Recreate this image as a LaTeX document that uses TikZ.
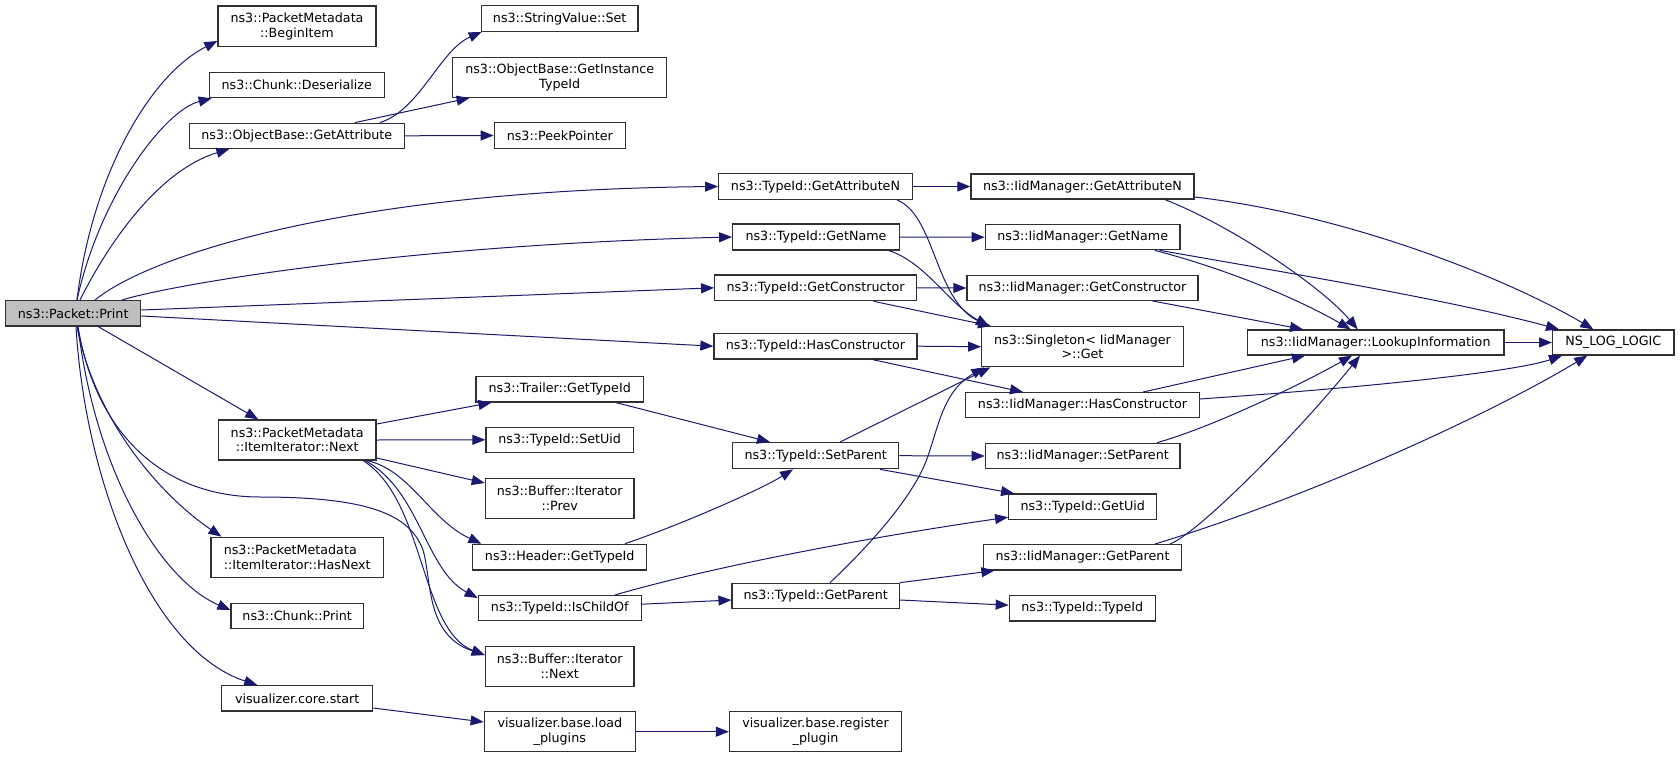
\documentclass[tikz,border=0pt]{standalone}
\usepackage{fontspec}
\setmainfont{DejaVu Sans}
\usetikzlibrary{arrows.meta,calc}
\definecolor{edgec}{HTML}{191970}
\definecolor{nodefill}{HTML}{BFBFBF}
\definecolor{nodeborder}{HTML}{303030}
\begin{document}
\begin{tikzpicture}[x=1pt,y=-1pt,
  fn/.style={draw=nodeborder, line width=1.3pt, fill=white, inner sep=0pt,
    font=\fontsize{12.7}{14.5}\selectfont, align=center, text=black},
  edge/.style={draw=edgec, line width=1pt, -{Triangle[length=13pt,width=10pt]}}]
\useasboundingbox (0,0) rectangle (1680,757);
% nodes
\node[fn,fill=nodefill,minimum width=135pt,minimum height=25.3pt] (print) at (73.2,313.3) {ns3::Packet::Print};
\node[fn,minimum width=158pt,minimum height=40.7pt] (beginitem) at (297,26.3) {ns3::PacketMetadata\\::BeginItem};
\node[fn,minimum width=175pt,minimum height=25.4pt] (deser) at (296.8,85) {ns3::Chunk::Deserialize};
\node[fn,minimum width=215pt,minimum height=25pt] (getattr) at (296.8,135.8) {ns3::ObjectBase::GetAttribute};
\node[fn,minimum width=157.7pt,minimum height=40pt] (next) at (297.2,440) {ns3::PacketMetadata\\::ItemIterator::Next};
\node[fn,align=left,minimum width=172.3pt,minimum height=40pt] (hasnext) at (297.2,557.3) {ns3::PacketMetadata\\::ItemIterator::HasNext};
\node[fn,minimum width=132.3pt,minimum height=25pt] (chunkprint) at (297.2,615.8) {ns3::Chunk::Print};
\node[fn,minimum width=151pt,minimum height=25.3pt] (corestart) at (297.2,698.3) {visualizer.core.start};
\node[fn,minimum width=156.7pt,minimum height=25.6pt] (strset) at (559.7,18.5) {ns3::StringValue::Set};
\node[fn,minimum width=214pt,minimum height=40pt] (instid) at (559.7,77.3) {ns3::ObjectBase::GetInstance\\TypeId};
\node[fn,minimum width=131pt,minimum height=25.6pt] (peek) at (559.8,135.5) {ns3::PeekPointer};
\node[fn,minimum width=193.6pt,minimum height=25.6pt] (tgetattrn) at (815.5,186.5) {ns3::TypeId::GetAttributeN};
\node[fn,minimum width=166.6pt,minimum height=26pt] (tgetname) at (816,237) {ns3::TypeId::GetName};
\node[fn,minimum width=201.6pt,minimum height=25.7pt] (tgetctor) at (815.5,287.8) {ns3::TypeId::GetConstructor};
\node[fn,minimum width=203pt,minimum height=25.7pt] (thasctor) at (815.5,346.2) {ns3::TypeId::HasConstructor};
\node[fn,minimum width=167.3pt,minimum height=25.3pt] (trailer) at (559.7,389.3) {ns3::Trailer::GetTypeId};
\node[fn,minimum width=147.3pt,minimum height=25pt] (setuid) at (559.7,439.8) {ns3::TypeId::SetUid};
\node[fn,minimum width=148.7pt,minimum height=39.6pt] (prev) at (559.7,498.5) {ns3::Buffer::Iterator\\::Prev};
\node[fn,minimum width=166pt,minimum height=26pt] (setparent) at (815.7,455.7) {ns3::TypeId::SetParent};
\node[fn,minimum width=174pt,minimum height=25.7pt] (header) at (559.7,557.2) {ns3::Header::GetTypeId};
\node[fn,minimum width=163pt,minimum height=25pt] (ischild) at (559.8,608.2) {ns3::TypeId::IsChildOf};
\node[fn,minimum width=148.7pt,minimum height=39.6pt] (bnext) at (559.7,666.5) {ns3::Buffer::Iterator\\::Next};
\node[fn,minimum width=151pt,minimum height=40pt] (loadplug) at (559.8,731.7) {visualizer.base.load\\\_plugins};
\node[fn,minimum width=167.3pt,minimum height=25.4pt] (tgetparent) at (815.7,596) {ns3::TypeId::GetParent};
\node[fn,minimum width=172pt,minimum height=40pt] (regplug) at (815.5,731.7) {visualizer.base.register\\\_plugin};
\node[fn,minimum width=223pt,minimum height=25pt] (igetattrn) at (1082.5,186.5) {ns3::IidManager::GetAttributeN};
\node[fn,minimum width=194.7pt,minimum height=25pt] (igetname) at (1082.7,237.2) {ns3::IidManager::GetName};
\node[fn,minimum width=231pt,minimum height=24.6pt] (igetctor) at (1082.5,288) {ns3::IidManager::GetConstructor};
\node[fn,minimum width=201.6pt,minimum height=40pt] (singleton) at (1082.5,346.7) {ns3::Singleton< IidManager\\>::Get};
\node[fn,minimum width=233.6pt,minimum height=25pt] (ihasctor) at (1082.5,405.2) {ns3::IidManager::HasConstructor};
\node[fn,minimum width=194.7pt,minimum height=25.4pt] (isetparent) at (1082.7,456) {ns3::IidManager::SetParent};
\node[fn,minimum width=148pt,minimum height=25.3pt] (getuid) at (1082.7,506.7) {ns3::TypeId::GetUid};
\node[fn,minimum width=197.6pt,minimum height=25.3pt] (igetparent) at (1082.5,557.3) {ns3::IidManager::GetParent};
\node[fn,minimum width=146pt,minimum height=25.6pt] (typeid) at (1082.3,608.2) {ns3::TypeId::TypeId};
\node[fn,minimum width=256.7pt,minimum height=25pt] (lookup) at (1375.7,342.5) {ns3::IidManager::LookupInformation};
\node[fn,minimum width=121.3pt,minimum height=25pt] (nslog) at (1613.3,342.5) {NS\_LOG\_LOGIC};
% edges from Print
\draw[edge] ([xshift=3.8pt]print.north) .. controls (92,175) and (150,75) .. ([yshift=-14.7pt]beginitem.west);
\draw[edge] ([xshift=3.8pt]print.north) .. controls (100,195) and (165,110) .. ([xshift=3pt]deser.south west);
\draw[edge] ([xshift=6.8pt]print.north) .. controls (110,240) and (160,170) .. ([xshift=40.7pt]getattr.south west);
\draw[edge] ([xshift=21.8pt]print.north) .. controls (150,255) and (350,190) .. (tgetattrn.west);
\draw[edge] ([xshift=48.8pt]print.north) .. controls (170,285) and (400,245) .. (tgetname.west);
\draw[edge] ([yshift=3.3pt]print.east) -- (tgetctor.west);
\draw[edge] ([yshift=-2.7pt]print.east) -- (thasctor.west);
\draw[edge] ([xshift=25pt]print.south) -- ([xshift=-39pt]next.north);
\draw[edge] ([xshift=3.8pt]print.south) .. controls (95,420) and (160,495) .. ([xshift=11pt]hasnext.north west);
\draw[edge] ([xshift=4.8pt]print.south) .. controls (95,470) and (160,580) .. ([yshift=5.8pt]chunkprint.west);
\draw[edge] ([xshift=2.8pt]print.south) .. controls (85,480) and (150,650) .. ([xshift=-40pt]corestart.north);
\draw[edge] ([xshift=4.8pt]print.south) .. controls (95,430) and (160,497) .. (260,497)
   .. controls (370,497) and (410,515) .. (423,550)
   .. controls (432,580) and (425,635) .. ([yshift=11.5pt]bnext.west);
% edges from ItemIterator::Next
\draw[edge] ([yshift=16pt]next.east) -- ([xshift=16pt]trailer.south west);
\draw[edge] (next.east) -- (setuid.west);
\draw[edge] ([yshift=-18pt]next.east) -- ([yshift=15.5pt]prev.west);
\draw[edge] ([xshift=70pt]next.south) .. controls (410,470) and (430,520) .. ([xshift=9.3pt]header.north west);
\draw[edge] ([xshift=68pt]next.south) .. controls (420,490) and (425,570) .. ([yshift=10.2pt]ischild.west);
\draw[edge] ([xshift=66pt]next.south) .. controls (425,500) and (420,630) .. ([yshift=11.5pt]bnext.west);
% edges from GetAttribute
\draw[edge] ([xshift=83pt]getattr.north) .. controls (420,110) and (440,50) .. ([xshift=1pt]strset.south west);
\draw[edge] ([xshift=58pt]getattr.north) -- ([xshift=17.5pt]instid.south west);
\draw[edge] (getattr.east) -- (peek.west);
% TypeId edges
\draw[edge] (tgetattrn.east) -- (igetattrn.west);
\draw[edge] ([xshift=81.5pt]tgetattrn.south) .. controls (935,215) and (935,300) .. ([xshift=8pt]singleton.north west);
\draw[edge] (tgetname.east) -- (igetname.west);
\draw[edge] ([xshift=73pt]tgetname.south) .. controls (925,262) and (950,305) .. ([xshift=8pt]singleton.north west);
\draw[edge] (tgetctor.east) -- (igetctor.west);
\draw[edge] ([xshift=58pt]tgetctor.south) -- ([xshift=10pt]singleton.north west);
\draw[edge] (thasctor.east) -- (singleton.west);
\draw[edge] ([xshift=57.5pt]thasctor.south) -- ([xshift=-59.5pt]ihasctor.north);
% IidManager edges
\draw[edge] ([xshift=82.5pt]igetattrn.south) .. controls (1230,225) and (1320,285) .. ([xshift=-18pt]lookup.north);
\draw[edge] ([yshift=-10.5pt]igetattrn.east) .. controls (1350,215) and (1510,280) .. ([xshift=-20pt]nslog.north);
\draw[edge] ([xshift=72pt]igetname.south) .. controls (1230,270) and (1300,300) .. ([xshift=-25pt]lookup.north);
\draw[edge] ([xshift=77pt]igetname.south) .. controls (1300,275) and (1450,300) .. ([xshift=7pt]nslog.north west);
\draw[edge] ([xshift=70pt]igetctor.south) -- ([xshift=-72.7pt]lookup.north);
\draw[edge] ([xshift=60.5pt]ihasctor.north) -- ([xshift=-70.7pt]lookup.south);
\draw[edge] ([yshift=6.2pt]ihasctor.east) .. controls (1400,385) and (1520,370) .. ([xshift=10pt]nslog.south west);
\draw[edge] (lookup.east) -- (nslog.west);
\draw[edge] ([xshift=74.3pt]isetparent.north) .. controls (1210,428) and (1300,385) .. ([xshift=-23.7pt]lookup.south);
\draw[edge] ([xshift=87.5pt]igetparent.north) .. controls (1200,532) and (1300,430) .. ([xshift=-15.7pt]lookup.south);
\draw[edge] ([xshift=72.5pt]igetparent.north) .. controls (1300,500) and (1480,420) .. ([xshift=-26pt]nslog.south);
% SetParent and friends
\draw[edge] ([xshift=56.3pt]trailer.south) -- ([xshift=-45.7pt]setparent.north);
\draw[edge] ([xshift=65.3pt]header.north) .. controls (680,525) and (760,490) .. ([xshift=-22.7pt]setparent.south);
\draw[edge] ([xshift=24.3pt]setparent.north) -- ([xshift=9.3pt]singleton.south west);
\draw[edge] (setparent.east) -- (isetparent.west);
\draw[edge] ([xshift=64.3pt]setparent.south) -- ([xshift=6pt]getuid.north west);
\draw[edge] ([xshift=55pt]ischild.north) .. controls (700,570) and (850,540) .. ([yshift=-10.5pt]getuid.west);
\draw[edge] ([yshift=4pt]ischild.east) -- ([yshift=-4pt]tgetparent.west);
\draw[edge] ([xshift=14.3pt]tgetparent.north) .. controls (870,545) and (915,495) .. (928,456)
   .. controls (940,420) and (945,390) .. ([xshift=3.3pt]singleton.south west);
\draw[edge] (tgetparent.north east) -- ([xshift=11.3pt]igetparent.south west);
\draw[edge] ([yshift=-4pt]tgetparent.east) -- ([yshift=3pt]typeid.west);
% visualizer
\draw[edge] ([yshift=-9.7pt]corestart.east) -- ([yshift=9.7pt]loadplug.west);
\draw[edge] (loadplug.east) -- (regplug.west);
\end{tikzpicture}
\end{document}
